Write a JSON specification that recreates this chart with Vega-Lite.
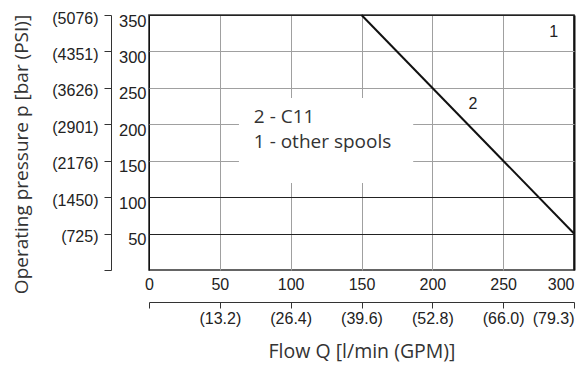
{
  "$schema": "https://vega.github.io/schema/vega-lite/v6.json",
  "width": 425,
  "height": 255,
  "autosize": {"type": "none"},
  "padding": {"left": 149, "top": 15, "right": 3, "bottom": 95},
  "config": {
    "view": {"stroke": "#333", "strokeWidth": 1.6},
    "axis": {
      "labelFont": "Liberation Sans",
      "labelFontSize": 16,
      "labelColor": "#222",
      "titleFont": "Open Sans",
      "titleFontSize": 19.5,
      "titleFontWeight": "normal",
      "titleColor": "#333"
    }
  },
  "layer": [
    {
      "data": {"values": [{"q": 63.5, "q2": 186.5, "p": 119.5, "p2": 236}]},
      "mark": {"type": "rect", "fill": "white"},
      "encoding": {
        "x": {"field": "q", "type": "quantitative", "scale": {"domain": [0, 300], "nice": false, "zero": false}, "axis": null},
        "x2": {"field": "q2"},
        "y": {"field": "p", "type": "quantitative", "scale": {"domain": [0, 350], "nice": false, "zero": false}, "axis": null},
        "y2": {"field": "p2"}
      }
    },
    {
      "data": {"values": [{"q": 150, "p": 350}, {"q": 300, "p": 50}]},
      "mark": {"type": "line", "color": "#111", "strokeWidth": 2},
      "encoding": {
        "x": {
          "field": "q", "type": "quantitative",
          "axis": {
            "orient": "bottom", "title": null, "values": [0, 50, 100, 150, 200, 250, 300],
            "ticks": false, "domain": false, "labelPadding": 6,
            "labelAlign": {"condition": {"test": "datum.value === 300", "value": "right"}, "value": "center"},
            "grid": true,
            "gridColor": {"condition": {"test": "datum.value === 300 || datum.value === 0", "value": "#111"}, "value": "#a0a0a0"},
            "gridWidth": {"condition": {"test": "datum.value === 300", "value": 2}, "value": 1},
            "gridOpacity": 1
          }
        },
        "y": {
          "field": "p", "type": "quantitative",
          "axis": {
            "orient": "left", "title": null, "values": [50, 100, 150, 200, 250, 300, 350],
            "ticks": false, "domain": false, "labelPadding": 3, "labelOffset": 6, "labelFontSize": 16.5,
            "grid": true,
            "gridColor": {"condition": {"test": "datum.value <= 100 || datum.value === 350", "value": "#222"}, "value": "#a0a0a0"},
            "gridOpacity": 1
          }
        }
      }
    },
    {
      "data": {"values": [{"q": 74, "p": 210, "label": "2 - C11"}, {"q": 74, "p": 175.7, "label": "1 - other spools"}]},
      "mark": {"type": "text", "align": "left", "baseline": "middle", "font": "Open Sans", "fontSize": 19, "color": "#333"},
      "encoding": {
        "x": {"field": "q", "type": "quantitative", "axis": null},
        "y": {"field": "p", "type": "quantitative", "axis": null},
        "text": {"field": "label"}
      }
    },
    {
      "data": {"values": [{"q": 285.6, "p": 326.7, "label": "1"}, {"q": 228.7, "p": 228.5, "label": "2"}]},
      "mark": {"type": "text", "align": "center", "baseline": "middle", "font": "Liberation Sans", "fontSize": 16, "color": "#222"},
      "encoding": {
        "x": {
          "field": "q", "type": "quantitative",
          "axis": {
            "orient": "bottom", "offset": 32, "title": "Flow Q [l/min (GPM)]",
            "values": [0, 50, 100, 150, 200, 250, 300],
            "tickSize": 6, "tickColor": "#333", "domainColor": "#333", "labelPadding": 2,
            "labelAlign": {"condition": {"test": "datum.value === 300", "value": "right"}, "value": "center"},
            "labelExpr": "datum.value === 0 ? '' : '(' + format(datum.value * 0.264172, '.1f') + ')'",
            "titlePadding": 16, "grid": false
          }
        },
        "y": {
          "field": "p", "type": "quantitative",
          "axis": {
            "orient": "left", "offset": 38, "title": "Operating pressure p [bar (PSI)]",
            "values": [0, 50, 100, 150, 200, 250, 300, 350],
            "tickSize": 7, "tickColor": "#333", "domainColor": "#333", "labelPadding": 6, "labelOffset": 3,
            "labelExpr": "datum.value === 0 ? '' : '(' + format(datum.value * 14.5038, '.0f') + ')'",
            "titleX": -80, "titleY": 139, "titleFontSize": 19, "grid": false
          }
        },
        "text": {"field": "label"}
      }
    }
  ],
  "resolve": {"axis": {"x": "independent", "y": "independent"}}
}
